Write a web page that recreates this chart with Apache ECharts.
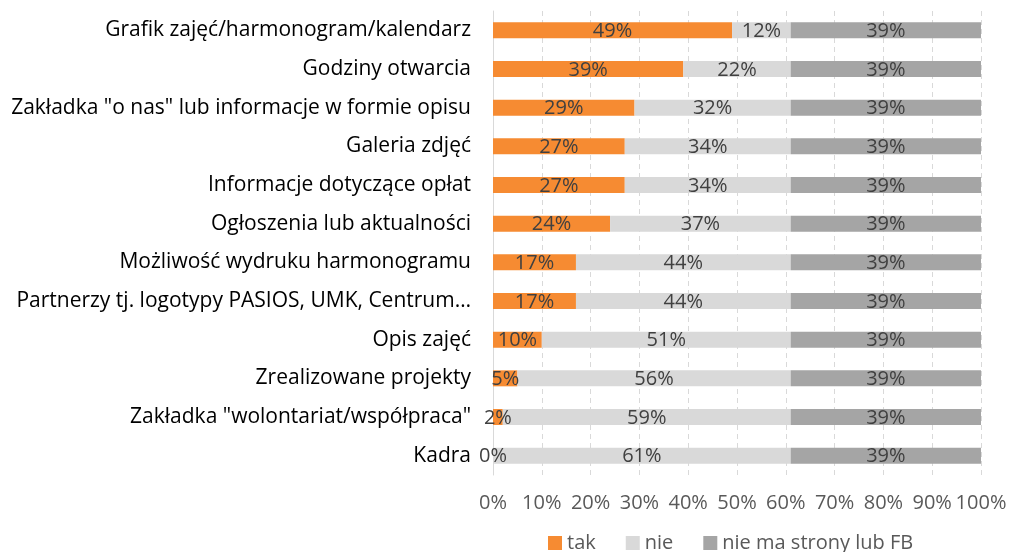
<!DOCTYPE html>
<html>
<head>
<meta charset="utf-8">
<script src="https://cdn.jsdelivr.net/npm/echarts@6/dist/echarts.min.js"></script>
<style>
  html, body { margin: 0; padding: 0; background: #fff; }
  #chart { width: 1012px; height: 552px; }
</style>
</head>
<body>
<div id="chart"></div>
<script>
// Website elements of the surveyed organisations (share of answers, %)
const categories = [
  'Grafik zajęć/harmonogram/kalendarz',
  'Godziny otwarcia',
  'Zakładka "o nas" lub informacje w formie opisu',
  'Galeria zdjęć',
  'Informacje dotyczące opłat',
  'Ogłoszenia lub aktualności',
  'Możliwość wydruku harmonogramu',
  'Partnerzy tj. logotypy PASIOS, UMK, Centrum…',
  'Opis zajęć',
  'Zrealizowane projekty',
  'Zakładka "wolontariat/współpraca"',
  'Kadra'
];
const seriesNames = ['tak', 'nie', 'nie ma strony lub FB'];
const takValues = [49, 39, 29, 27, 27, 24, 17, 17, 10, 5, 2, 0];
const nieValues = [12, 22, 32, 34, 34, 37, 44, 44, 51, 56, 59, 61];
const noSiteValues = [39, 39, 39, 39, 39, 39, 39, 39, 39, 39, 39, 39];
const colors = ['#F68B32', '#D9D9D9', '#A5A5A5'];

const font = '"Open Sans", "Noto Sans", sans-serif';
const labelSize = 21;
const valueSize = 20;
const chart = echarts.init(document.getElementById('chart'), null, { renderer: 'canvas' });

function barSeries(name, data, color) {
  return {
    name: name,
    type: 'bar',
    stack: 'total',
    data: data,
    barWidth: 16,
    itemStyle: { color: color },
    label: {
      show: true,
      position: 'inside',
      offset: [0, 1],
      formatter: p => p.value + '%',
      color: '#404040',
      fontFamily: font,
      fontSize: valueSize
    },
    emphasis: { disabled: true }
  };
}

chart.setOption({
  animation: false,
  textStyle: { fontFamily: font },
  grid: { left: 493, right: 31, top: 11, bottom: 77, containLabel: false },
  legend: {
    top: 528,
    left: 543,
    itemWidth: 14,
    itemHeight: 14,
    itemGap: 30,
    icon: 'rect',
    textStyle: { color: '#595959', fontSize: valueSize, fontFamily: font },
    data: seriesNames
  },
  xAxis: {
    type: 'value',
    min: 0,
    max: 100,
    interval: 10,
    axisLine: { show: false },
    axisTick: { show: false },
    axisLabel: {
      formatter: v => v + '%',
      color: '#595959',
      fontSize: valueSize,
      fontFamily: font,
      margin: 18
    },
    splitLine: { show: true, lineStyle: { color: '#D9D9D9', type: [5, 4], width: 1 } }
  },
  yAxis: {
    type: 'category',
    data: categories,
    inverse: true,
    axisLine: { show: true, lineStyle: { color: '#D9D9D9', width: 1 } },
    axisTick: { show: false },
    axisLabel: {
      color: '#000',
      fontSize: labelSize,
      fontFamily: font,
      margin: 22
    }
  },
  series: [
    barSeries(seriesNames[0], takValues, colors[0]),
    barSeries(seriesNames[1], nieValues, colors[1]),
    barSeries(seriesNames[2], noSiteValues, colors[2])
  ]
});
</script>
</body>
</html>
